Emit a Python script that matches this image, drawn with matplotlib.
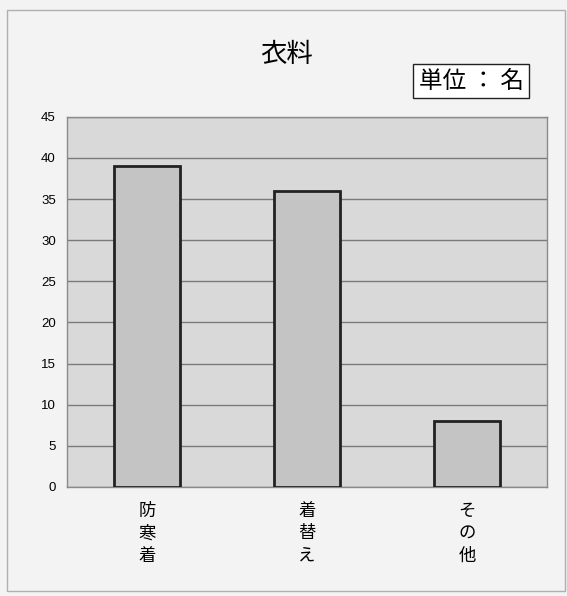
import matplotlib
matplotlib.use("Agg")
import matplotlib.pyplot as plt
from matplotlib.patches import Rectangle

plt.rcParams['font.family'] = ['Noto Sans CJK JP', 'DejaVu Sans']

categories = ["防寒着", "着替え", "その他"]
counts = [39, 36, 8]
yticks = [0, 5, 10, 15, 20, 25, 30, 35, 40, 45]

BG = "#f3f3f3"
fig = plt.figure(figsize=(5.67, 5.96), dpi=100)
fig.patch.set_facecolor(BG)

# outer frame
fig.patches.append(Rectangle((0.012, 0.008), 0.985, 0.975, transform=fig.transFigure,
                             fill=False, edgecolor="#b0b0b0", lw=1.0))

ax = fig.add_axes([0.118, 0.183, 0.847, 0.621])
ax.set_facecolor("#d9d9d9")
x = list(range(len(categories)))
ax.bar(x, counts, width=0.41, color="#c4c4c4", edgecolor="#222222", linewidth=2, zorder=3)

ax.set_xlim(-0.5, 2.5)
ax.set_ylim(0, 45)
ax.set_yticks(yticks)
ax.set_yticklabels([str(v) for v in yticks], fontsize=9.5, family=["Liberation Sans", "DejaVu Sans"])
ax.yaxis.grid(True, color="#7a7a7a", lw=1.0, zorder=1)
ax.set_axisbelow(True)
ax.set_xticks(x)
ax.set_xticklabels(["\n".join(c) for c in categories], fontsize=12.5, linespacing=1.3)
ax.tick_params(axis="both", length=0, pad=8)
ax.tick_params(axis="x", pad=11)
for s in ax.spines.values():
    s.set_color("#8a8a8a")
    s.set_linewidth(1.0)

fig.text(0.505, 0.908, "衣料", ha="center", va="center", fontsize=19)
fig.text(0.831, 0.864, "単位 ： 名", ha="center", va="center", fontsize=17,
         bbox=dict(boxstyle="square,pad=0.22", facecolor="white", edgecolor="#222222", lw=1.0))

fig.savefig("out.png", dpi=100, facecolor=BG)
